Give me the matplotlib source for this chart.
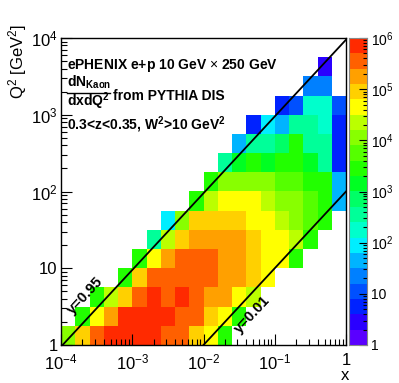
import numpy as np
import matplotlib
matplotlib.use("Agg")
import matplotlib.pyplot as plt
from matplotlib.colors import ListedColormap, BoundaryNorm
from matplotlib.lines import Line2D
from matplotlib.ticker import LogLocator, NullFormatter, FixedLocator, FixedFormatter

plt.rcParams['font.family'] = ['Liberation Sans', 'DejaVu Sans']
plt.rcParams['mathtext.fontset'] = 'custom'
plt.rcParams['mathtext.rm'] = 'Liberation Sans'
plt.rcParams['mathtext.bf'] = 'Liberation Sans:bold'
plt.rcParams['mathtext.it'] = 'Liberation Sans:italic'

# binning: 20 log bins in x (1e-4..1), 16 log bins in Q2 (1..1e4)
x_edges = np.logspace(-4, 0, 21)
q2_edges = np.logspace(0, 4, 17)

# counts per Q2 bin (lowest Q2 first), one value per x bin, 0 = empty
counts = [
    [1.1e4, 9e4, 3.5e5, 7e5, 7e5, 7e5, 7e5, 3.5e5, 3.5e5, 9e4, 4.5e4, 2800, 0, 0, 0, 0, 0, 0, 0, 0],
    [0, 2800, 4.5e4, 1.8e5, 7e5, 7e5, 7e5, 6e5, 3.5e5, 3.5e5, 9e4, 4.5e4, 2800, 0, 0, 0, 0, 0, 0, 0],
    [0, 0, 2800, 2.2e4, 9e4, 3.5e5, 7e5, 3.5e5, 6e5, 3.5e5, 1.8e5, 1.8e5, 4.5e4, 2.2e4, 0, 0, 0, 0, 0, 0],
    [0, 0, 0, 0, 2800, 9e4, 3.5e5, 3.5e5, 3.5e5, 3.5e5, 3e5, 1.8e5, 1.8e5, 9e4, 4.5e4, 0, 0, 0, 0, 0],
    [0, 0, 0, 0, 0, 2800, 4.5e4, 1.8e5, 3e5, 3e5, 3e5, 1.8e5, 1.8e5, 9e4, 4.5e4, 4.5e4, 2800, 0, 0, 0],
    [0, 0, 0, 0, 0, 0, 350, 2.2e4, 9e4, 1.8e5, 1.8e5, 1.8e5, 1.5e5, 9e4, 4.5e4, 4.5e4, 2.2e4, 2800, 0, 0],
    [0, 0, 0, 0, 0, 0, 0, 90, 1.1e4, 9e4, 9e4, 9e4, 8e4, 4.5e4, 4.5e4, 2.2e4, 1.1e4, 5600, 2800, 0],
    [0, 0, 0, 0, 0, 0, 0, 0, 0, 2800, 2.2e4, 4.5e4, 4.5e4, 4.5e4, 2.2e4, 1.1e4, 1.1e4, 5600, 2800, 45],
    [0, 0, 0, 0, 0, 0, 0, 0, 0, 0, 2800, 1.1e4, 1.1e4, 1.1e4, 1.1e4, 5600, 5600, 2800, 2800, 45],
    [0, 0, 0, 0, 0, 0, 0, 0, 0, 0, 0, 350, 1400, 2800, 1400, 2800, 2800, 1400, 350, 5.6],
    [0, 0, 0, 0, 0, 0, 0, 0, 0, 0, 0, 0, 45, 350, 350, 700, 2800, 350, 350, 5.6],
    [0, 0, 0, 0, 0, 0, 0, 0, 0, 0, 0, 0, 0, 5.6, 90, 45, 350, 350, 180, 5.6],
    [0, 0, 0, 0, 0, 0, 0, 0, 0, 0, 0, 0, 0, 0, 0, 5.6, 11, 180, 180, 11],
    [0, 0, 0, 0, 0, 0, 0, 0, 0, 0, 0, 0, 0, 0, 0, 0, 0, 22, 22, 0],
    [0, 0, 0, 0, 0, 0, 0, 0, 0, 0, 0, 0, 0, 0, 0, 0, 0, 0, 2.8, 0],
    [0, 0, 0, 0, 0, 0, 0, 0, 0, 0, 0, 0, 0, 0, 0, 0, 0, 0, 0, 0],
]

# inelasticity cut lines, Q2 = y * s * x
s = 4 * 10 * 250
y_cuts = [0.95, 0.01]
y_labels = ["y=0.95", "y=0.01"]

palette = ["#5a00ff", "#2a00ff", "#0022ff", "#0050ff", "#0080ff",
           "#00b4ff", "#00eeff", "#00ffcc", "#00ff99", "#00ff66",
           "#00ff22", "#22ff00", "#55ff00", "#88ff00", "#bbff00",
           "#ffff00", "#ffd000", "#ffa000", "#ff6000", "#ff2a00"]
levels = 10 ** np.linspace(0, 6, 21)
cmap = ListedColormap(palette)
norm = BoundaryNorm(levels, cmap.N)

W, H = 399, 383


def fx(px):
    return px / W


def fy(py):
    return 1 - py / H


fig = plt.figure(figsize=(W / 100, H / 100), dpi=100)
ax = fig.add_axes([fx(61), fy(345), 285 / W, 307 / H])

c = np.ma.masked_equal(np.array(counts), 0)
mesh = ax.pcolormesh(x_edges, q2_edges, c, cmap=cmap, norm=norm)

ax.set_xscale('log')
ax.set_yscale('log')
ax.set_xlim(1e-4, 1)
ax.set_ylim(1, 1e4)

xl = np.logspace(-4, 0, 200)
for yc in y_cuts:
    ax.plot(xl, yc * s * xl, color='black', lw=1.3)

ax.xaxis.set_major_locator(FixedLocator([1e-4, 1e-3, 1e-2, 1e-1, 1]))
ax.xaxis.set_major_formatter(FixedFormatter(['$10^{-4}$', '$10^{-3}$', '$10^{-2}$', '$10^{-1}$', '1']))
ax.yaxis.set_major_locator(FixedLocator([1, 10, 100, 1000, 1e4]))
ax.yaxis.set_major_formatter(FixedFormatter(['1', '10', '$10^{2}$', '$10^{3}$', '$10^{4}$']))
for a in (ax.xaxis, ax.yaxis):
    a.set_minor_locator(LogLocator(base=10, subs=np.arange(2, 10)))
    a.set_minor_formatter(NullFormatter())
ax.tick_params(which='both', direction='in', top=False, right=False, labelsize=12, width=0.8)
ax.tick_params(which='major', length=8)
ax.tick_params(which='minor', length=4)
ax.tick_params(axis='x', pad=5.5)
ax.tick_params(axis='y', pad=2.5)
for sp in ax.spines.values():
    sp.set_linewidth(1.0)

# colour scale
cax = fig.add_axes([fx(349), fy(345), 17.5 / W, 307 / H])
cax.pcolormesh([0, 1], levels, np.sqrt(levels[:-1] * levels[1:])[:, None], cmap=cmap, norm=norm)
cax.set_yscale('log')
cax.set_ylim(1, 1e6)
cax.set_xlim(0, 1)
cax.set_xticks([])
cax.yaxis.tick_right()
cax.yaxis.set_major_locator(FixedLocator(10.0 ** np.arange(7)))
cax.yaxis.set_major_formatter(FixedFormatter(['1', '10', '$10^{2}$', '$10^{3}$', '$10^{4}$', '$10^{5}$', '$10^{6}$']))
cax.yaxis.set_minor_locator(LogLocator(base=10, subs=np.arange(2, 10)))
cax.yaxis.set_minor_formatter(NullFormatter())
cax.tick_params(which='both', direction='in', labelsize=10, pad=3, width=0.8, colors='black')
cax.tick_params(which='major', length=6)
cax.tick_params(which='minor', length=3)
for sp in cax.spines.values():
    sp.set_color('#888888')
    sp.set_linewidth(0.8)

# axis titles
fig.text(fx(18), fy(24), 'Q$^{2}$ [GeV$^{2}$]', rotation=90, ha='center', va='top', fontsize=12)
fig.text(fx(349), fy(376), 'x', ha='right', va='center', fontsize=12)

# labels
fig.text(fx(67), fy(69.5), 'ePHENIX e+p 10 GeV $\\times$ 250 GeV', fontsize=10, fontweight='bold', va='baseline')
fig.text(fx(67), fy(87), 'dN$_{\\mathbf{Kaon}}$', fontsize=10, fontweight='bold', va='baseline')
fig.add_artist(Line2D([fx(67), fx(110)], [fy(92.5), fy(92.5)], color='black', lw=1.0))
fig.text(fx(67), fy(106), 'dxdQ$^{\\mathbf{2}}$', fontsize=10, fontweight='bold', va='baseline')
fig.text(fx(113), fy(99.5), 'from PYTHIA DIS', fontsize=10, fontweight='bold', va='baseline')
fig.text(fx(67), fy(130), '0.3<z<0.35, W$^{\\mathbf{2}}$>10 GeV$^{\\mathbf{2}}$', fontsize=10,
         fontweight='bold', va='baseline')

fig.text(fx(85), fy(296), y_labels[0], rotation=47, ha='center', va='center', fontsize=10.5, fontweight='bold')
fig.text(fx(252), fy(315), y_labels[1], rotation=47, ha='center', va='center', fontsize=10.5, fontweight='bold')

fig.savefig('out.png', dpi=100)
